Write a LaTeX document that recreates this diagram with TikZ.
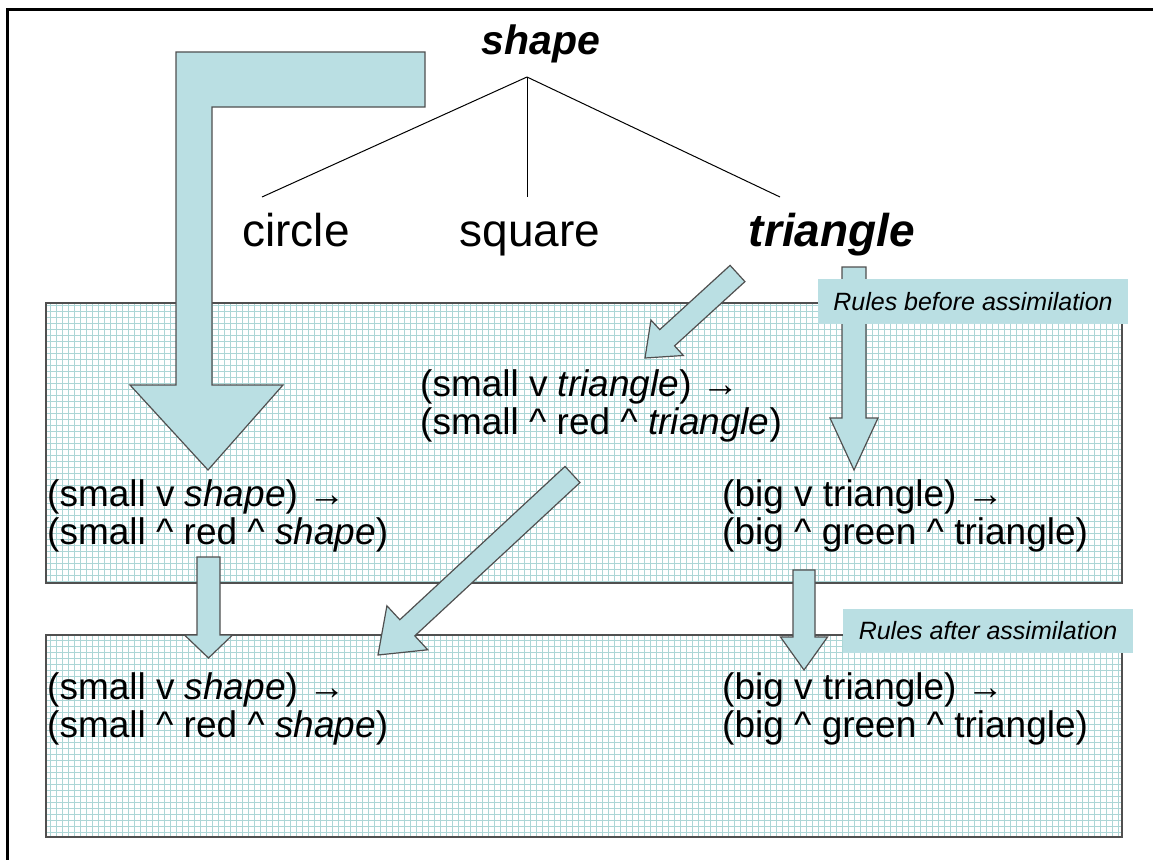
\documentclass[tikz,border=0pt]{standalone}
\usepackage{fontspec}
\setmainfont{Liberation Sans}
\usetikzlibrary{calc}
\definecolor{arrowfill}{RGB}{186,223,227}
\definecolor{gridc}{RGB}{172,214,214}
\definecolor{edgec}{RGB}{80,80,80}
\tikzset{
  blk/.style={fill=arrowfill, draw=edgec, line width=1.2pt, line join=miter},
  gridbox/.style={draw=edgec, line width=2pt, fill=white, inner sep=0pt,
    path picture={\draw[gridc, line width=0.6pt, step=6pt]
      (path picture bounding box.south west) grid (path picture bounding box.north east);}},
  rule/.style={anchor=west, align=left, font=\fontsize{37}{38}\selectfont, inner sep=0pt},
  tag/.style={fill=arrowfill, font=\fontsize{25}{27}\selectfont\itshape, inner sep=0pt},
  tree/.style={font=\fontsize{46}{48}\selectfont, inner sep=0pt, anchor=base},
  boldtree/.style={tree, font=\fontsize{46}{48}\selectfont\bfseries\itshape},
  treeline/.style={draw=black, line width=1pt},
}
\newcommand\blockarrow[5]{%
  \coordinate (hb) at ($(#2)!#5!(#1)$);
  \draw[blk] ($(#1)!#3!90:(#2)$) -- ($(hb)!#3!90:(#2)$) -- ($(hb)!#4!90:(#2)$) -- (#2)
    -- ($(hb)!#4!-90:(#2)$) -- ($(hb)!#3!-90:(#2)$) -- ($(#1)!#3!-90:(#2)$) -- cycle;}
\newcommand\ra{→}
\begin{document}
\begin{tikzpicture}[x=1pt,y=-1pt]
\useasboundingbox (0,0) rectangle (1153,859);
\clip (0,0) rectangle (1153,859);
\fill[white] (0,0) rectangle (1153,859);
\draw[line width=3pt] (7,10) rectangle (1170,880);

% grid boxes
\node[gridbox, minimum width=1076pt, minimum height=280pt] (box1) at (584,443) {};
\node[gridbox, minimum width=1076pt, minimum height=202pt] (box2) at (584,736) {};

% tree
\node[boldtree, font=\fontsize{41}{44}\selectfont\bfseries\itshape] (shape) at (541,55) {shape};
\node[tree] (circle) at (296,246) {circle};
\node[tree] (square) at (530,246) {square};
\node[boldtree] (triangle) at (832,246) {triangle};
\coordinate (root) at (527,77);
\coordinate (lc) at (262,197);
\coordinate (mc) at (527,197);
\coordinate (rc) at (780,197);
\draw[treeline] (root) -- (lc);
\draw[treeline] (root) -- (mc);
\draw[treeline] (root) -- (rc);

% rules
\node[rule] (r1) at (420,406) {(small v \textit{triangle}) \ra\\(small \textasciicircum{} red \textasciicircum{} \textit{triangle})};
\node[rule] (r2) at (47,516) {(small v \textit{shape}) \ra\\(small \textasciicircum{} red \textasciicircum{} \textit{shape})};
\node[rule] (r3) at (722,516) {(big v triangle) \ra\\(big \textasciicircum{} green \textasciicircum{} triangle)};
\node[rule] (r4) at (47,709) {(small v \textit{shape}) \ra\\(small \textasciicircum{} red \textasciicircum{} \textit{shape})};
\node[rule] (r5) at (722,709) {(big v triangle) \ra\\(big \textasciicircum{} green \textasciicircum{} triangle)};

% big L arrow
\draw[blk] (425,52) -- (176,52) -- (176,385) -- (130,385) -- (208,470) -- (283,385)
  -- (212,385) -- (212,107) -- (425,107) -- cycle;

% block arrows
\coordinate (a1t) at (737.5,273.5); \coordinate (a1h) at (645,358);
\blockarrow{a1t}{a1h}{11pt}{24pt}{30pt}
\coordinate (a2t) at (572.5,474.5); \coordinate (a2h) at (378,655);
\blockarrow{a2t}{a2h}{11pt}{30pt}{40pt}
\coordinate (a3t) at (854,267); \coordinate (a3h) at (854,470);
\blockarrow{a3t}{a3h}{12pt}{24pt}{52pt}
\coordinate (a4t) at (208.5,557); \coordinate (a4h) at (208.5,658);
\blockarrow{a4t}{a4h}{11.5pt}{24pt}{23pt}
\coordinate (a5t) at (804,570); \coordinate (a5h) at (804,670);
\blockarrow{a5t}{a5h}{11pt}{23.5pt}{33pt}

% tags
\node[tag, minimum width=310pt, minimum height=45pt] (before) at (973,301.5) {Rules before assimilation};
\node[tag, minimum width=290pt, minimum height=44pt] (after) at (988,631) {Rules after assimilation};
\end{tikzpicture}
\end{document}
